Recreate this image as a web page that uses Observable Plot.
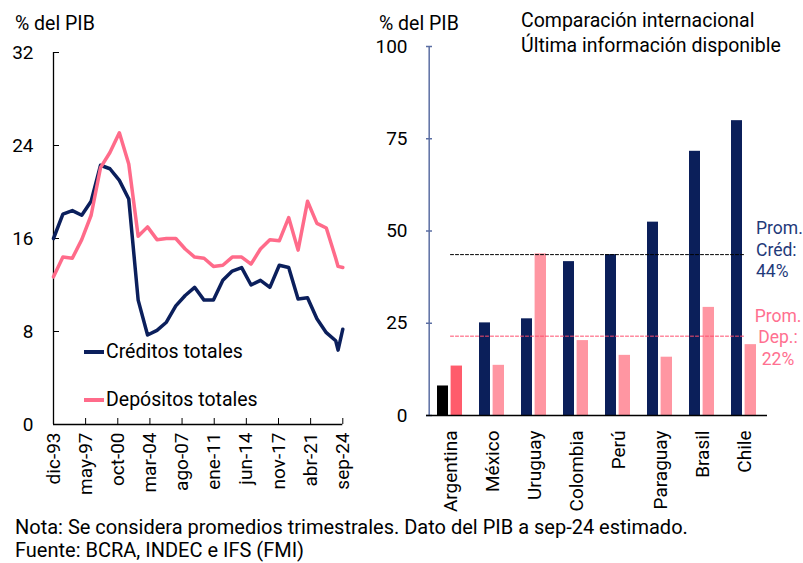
<!DOCTYPE html>
<html><head><meta charset="utf-8">
<script src="https://cdn.jsdelivr.net/npm/d3@7"></script>
<script src="https://cdn.jsdelivr.net/npm/@observablehq/plot@0.6"></script>
<style>
body{margin:0;background:#fff;font-family:Roboto,sans-serif;}
#wrap{position:relative;width:803px;height:563px;overflow:hidden;background:#fff;}
.abs{position:absolute;white-space:nowrap;color:#000;font-family:Roboto,sans-serif;}
#wrap svg{position:absolute;top:0;}
</style></head><body><div id="wrap"></div>
<script>
// ---------- Left chart data (% del PIB) ----------
const periods = ["dic-93","dic-94","dic-95","dic-96","dic-97","dic-98","dic-99","dic-00","dic-01","dic-02",
  "dic-03","dic-04","dic-05","dic-06","dic-07","dic-08","dic-09","dic-10","dic-11","dic-12",
  "dic-13","dic-14","dic-15","dic-16","dic-17","dic-18","dic-19","dic-20","dic-21","dic-22",
  "dic-23","mar-24","sep-24"];
const creditos = [16.0,18.1,18.4,18.0,19.2,22.3,22.0,21.0,19.4,10.7,
  7.7,8.1,8.8,10.2,11.1,11.8,10.7,10.7,12.4,13.2,
  13.5,12.0,12.4,11.8,13.7,13.5,10.8,10.9,9.1,7.9,
  7.2,6.4,8.2];
const depositos = [12.7,14.4,14.3,15.9,18.0,22.1,23.4,25.1,22.4,16.2,
  17.0,15.9,16.0,16.0,15.1,14.4,14.3,13.6,13.7,14.4,
  14.4,13.8,15.1,15.9,15.8,17.8,15.0,19.2,17.3,16.9,
  14.3,13.6,13.5];
const xTickLabels = ["dic-93","may-97","oct-00","mar-04","ago-07","ene-11","jun-14","nov-17","abr-21","sep-24"];
const yTicksLeft = [0,8,16,24,32];

// ---------- Right chart data ----------
const paises = ["Argentina","México","Uruguay","Colombia","Perú","Paraguay","Brasil","Chile"];
const credPais = [8.0,25.1,26.2,41.7,43.6,52.4,71.6,79.9];
const depPais = [13.4,13.6,43.8,20.3,16.3,15.8,29.3,19.2];
const promCred = 43.6, promDep = 21.5;
const promCredLabel = "Prom.\nCréd:\n44%";
const promDepLabel = "Prom.\nDep.:\n22%";
const yTicksRight = [0,25,50,75,100];

// ---------- helpers ----------
const mes = {ene:0,feb:1,mar:2,abr:3,may:4,jun:5,jul:6,ago:7,sep:8,oct:9,nov:10,dic:11};
function toDate(s){const [m,y]=s.split("-");const yy=+y;return new Date(Date.UTC(yy<50?2000+yy:1900+yy, mes[m], 1));}
const tickDates = xTickLabels.map(toDate);
const labelOf = new Map(xTickLabels.map(l=>[+toDate(l), l]));

const navy = "#0b1f5c", pinkLine = "#ff6b8a";
const credData = periods.map((p,i)=>({date:toDate(p), v:creditos[i]}));
const depData = periods.map((p,i)=>({date:toDate(p), v:depositos[i]}));

const wrap = document.getElementById("wrap");

// left chart geometry
const LW = 370, LH = 500, LML = 53, LMR = 27.7, LMT = 52, LMB = 76;
const LFW = LW - LML - LMR, LFH = LH - LMT - LMB;
const TICK = 6;

const left = Plot.plot({
  width: LW, height: LH,
  marginLeft: LML, marginRight: LMR, marginTop: LMT, marginBottom: LMB,
  style: {fontFamily: "Roboto, sans-serif", fontSize: "19px", color: "#000", background: "transparent", overflow: "visible"},
  x: {type: "utc", domain: [toDate(periods[0]), toDate(periods[periods.length-1])]},
  y: {domain: [0, 32]},
  marks: [
    Plot.axisY({ticks: yTicksLeft, tickSize: 0, tickPadding: 20, label: null}),
    Plot.axisX({ticks: tickDates, tickSize: 0, tickPadding: 8, tickRotate: -90, tickFormat: d => labelOf.get(+d), label: null}),
    Plot.tickY(yTicksLeft, {y: d => d, stroke: "#000", insetRight: LFW - TICK}),
    Plot.tickX(tickDates, {x: d => d, stroke: "#000", insetTop: LFH - TICK}),
    Plot.ruleX([toDate(periods[0])], {stroke: "#000", strokeWidth: 1.3}),
    Plot.ruleY([0], {stroke: "#000", strokeWidth: 1.3}),
    Plot.lineY(credData, {x: "date", y: "v", stroke: navy, strokeWidth: 3.5}),
    Plot.lineY(depData, {x: "date", y: "v", stroke: pinkLine, strokeWidth: 3.5})
  ]
});
left.style.left = "0px";
wrap.appendChild(left);

// right chart geometry
const RW = 443, RH = 500, RML = 66, RMR = 36, RMT = 46, RMB = 85;
const RFW = RW - RML - RMR;
const band = RFW / paises.length;
const axisBlue = "#5b6ea3";

const barData = paises.map((p,i)=>({pais:p, c:credPais[i], d:depPais[i], arg: i===0}));
const right = Plot.plot({
  width: RW, height: RH,
  marginLeft: RML, marginRight: RMR, marginTop: RMT, marginBottom: RMB,
  style: {fontFamily: "Roboto, sans-serif", fontSize: "19px", color: "#000", background: "transparent", overflow: "visible"},
  x: {domain: paises, padding: 0},
  y: {domain: [0, 100]},
  marks: [
    Plot.barY(barData, {x: "pais", y: "c", fill: d => d.arg ? "#000000" : "#0b1f5a", insetLeft: 8, insetRight: 23}),
    Plot.barY(barData, {x: "pais", y: "d", fill: d => d.arg ? "#ff5c6c" : "#ff96a2", insetLeft: 21.6, insetRight: 9}),
    Plot.lineY([{p: paises[0], v: promCred}, {p: paises[paises.length-1], v: promCred}], {x: "p", y: "v", stroke: "#000", strokeWidth: 1, strokeDasharray: "3,2"}),
    Plot.lineY([{p: paises[0], v: promDep}, {p: paises[paises.length-1], v: promDep}], {x: "p", y: "v", stroke: "#ff4d6d", strokeWidth: 1, strokeDasharray: "3,2"}),
    Plot.text([{p: paises[paises.length-1], v: promCred, t: promCredLabel}], {x: "p", y: "v", text: "t", dx: 11.5, dy: -6, textAnchor: "start", fill: "#1f3a7a", fontSize: 17.5, lineHeight: 1.23}),
    Plot.text([{p: paises[paises.length-1], v: promDep, t: promDepLabel}], {x: "p", y: "v", text: "t", dx: 33.5, dy: 0, textAnchor: "middle", fill: "#ff7090", fontSize: 17.5, lineHeight: 1.23}),
    Plot.tickY(yTicksRight, {y: d => d, stroke: axisBlue, strokeWidth: 1.5, insetRight: RFW - TICK}),
    Plot.ruleX([paises[0]], {stroke: axisBlue, strokeWidth: 1.5, dx: -band / 2}),
    Plot.ruleY([0], {stroke: "#000", strokeWidth: 1.3}),
    Plot.axisY({ticks: yTicksRight, tickSize: 0, tickPadding: 19, label: null}),
    Plot.axisX({tickSize: 0, tickPadding: 15, tickRotate: -90, label: null})
  ]
});
right.style.left = "360px";
wrap.appendChild(right);

function addText(txt, x, y, size, color, extra){
  const d = document.createElement("div");
  d.className = "abs"; d.textContent = txt;
  d.style.left = x + "px"; d.style.top = y + "px"; d.style.fontSize = size + "px";
  d.style.color = color || "#000";
  if (extra) Object.assign(d.style, extra);
  wrap.appendChild(d);
  return d;
}
addText("% del PIB", 15, 12, 19.5);
addText("% del PIB", 379, 12, 19.5);
addText("Comparación internacional", 521, 9, 19.5);
addText("Última información disponible", 521, 34, 19.5);

// legend
function legendItem(txt, y, color){
  const ln = document.createElement("div");
  ln.className = "abs";
  ln.style.left = "84px"; ln.style.top = (y - 1.75) + "px";
  ln.style.width = "20px"; ln.style.height = "3.5px"; ln.style.background = color;
  wrap.appendChild(ln);
  addText(txt, 106, y - 12, 19.5);
}
legendItem("Créditos totales", 352, navy);
legendItem("Depósitos totales", 400, pinkLine);

addText("Nota: Se considera promedios trimestrales. Dato del PIB a sep-24 estimado.", 15, 515, 20);
addText("Fuente: BCRA, INDEC e IFS (FMI)", 15, 538, 20);
</script></body></html>
